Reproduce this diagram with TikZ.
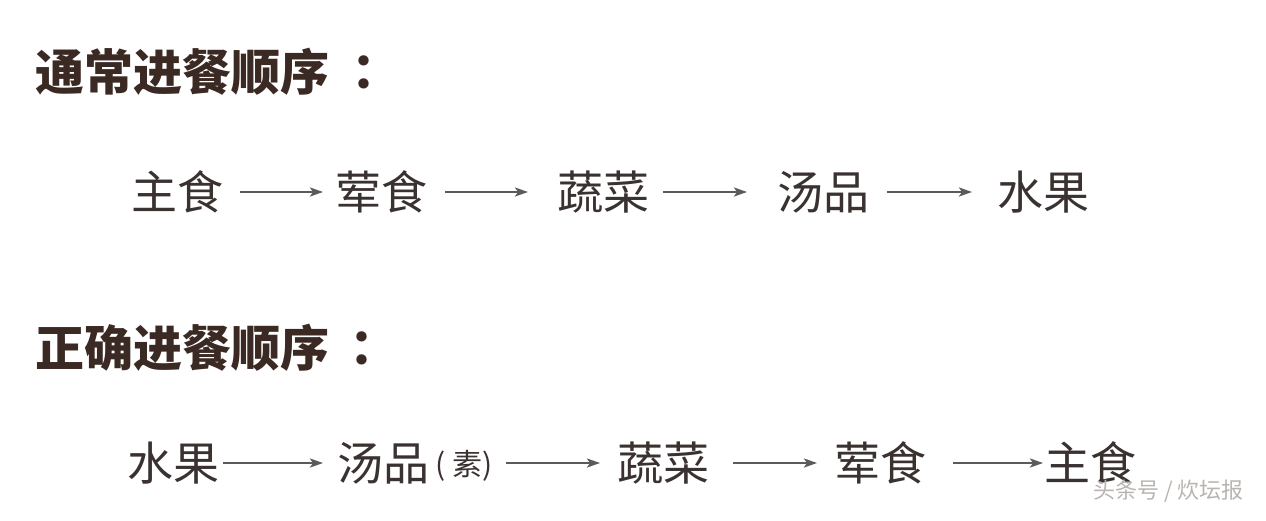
\documentclass[tikz,border=0pt]{standalone}
\usepackage{fontspec}
\newfontfamily\cjk{Noto Sans CJK SC}
\newfontfamily\cjkjp{Noto Sans CJK JP}
\usetikzlibrary{arrows.meta}
\definecolor{titlecol}{HTML}{3B2A23}
\definecolor{itemcol}{HTML}{3A3230}
\definecolor{arrowcol}{HTML}{5E5A59}
\definecolor{markcol}{HTML}{B8B4B2}
\begin{document}
\begin{tikzpicture}[x=1pt,y=-1pt,
  title/.style={anchor=west,inner sep=0pt,text=titlecol,font=\cjk\bfseries\fontsize{49}{52}\selectfont},
  item/.style={anchor=west,inner sep=0pt,text=itemcol,font=\cjk\fontsize{46}{48}\selectfont},
  small/.style={anchor=west,inner sep=0pt,text=itemcol,font=\cjk\fontsize{30}{32}\selectfont},
  flow/.style={draw=arrowcol,line width=2.2pt,-{Stealth[length=13pt,width=9pt,inset=3pt]}},
  wmark/.style={anchor=west,inner sep=0pt,text=markcol,font=\cjk\fontsize{22}{24}\selectfont}]
\useasboundingbox[fill=white] (0,0) rectangle (1266,520);

\node[title] (t1) at (35,72) {通常进餐顺序\hspace{10pt}{\cjkjp\bfseries ：}};
\node[title] (t2) at (35,348) {正确进餐顺序\hspace{8pt}{\cjkjp\bfseries ：}};

% row 1
\node[item] (a1) at (131,192) {主食};
\node[item] (a2) at (335,192) {荤食};
\node[item] (a3) at (557,192) {蔬菜};
\node[item] (a4) at (777,192) {汤品};
\node[item] (a5) at (997,192) {水果};
\draw[flow] ([xshift=17pt]a1.east) -- ([xshift=-12pt]a2.west);
\draw[flow] ([xshift=18pt]a2.east) -- ([xshift=-29pt]a3.west);
\draw[flow] ([xshift=14pt]a3.east) -- ([xshift=-30pt]a4.west);
\draw[flow] ([xshift=18pt]a4.east) -- ([xshift=-25pt]a5.west);

% row 2
\node[item] (b1) at (127,463) {水果};
\node[item] (b2) at (337,463) {汤品};
\node[small] (s) at (435,466) {( 素)};
\node[item] (b3) at (617,463) {蔬菜};
\node[item] (b4) at (834,463) {荤食};
\node[item] (b5) at (1044,463) {主食};
\draw[flow] ([xshift=4pt]b1.east) -- ([xshift=-14pt]b2.west);
\draw[flow] ([xshift=14pt]s.east |- b3.west) -- ([xshift=-17pt]b3.west);
\draw[flow] ([xshift=24pt]b3.east) -- ([xshift=-17pt]b4.west);
\draw[flow] ([xshift=27pt]b4.east) -- ([xshift=-1pt]b5.west);

\node[wmark] (wm) at (1093,491) {头条号 / 炊坛报};
\end{tikzpicture}
\end{document}
